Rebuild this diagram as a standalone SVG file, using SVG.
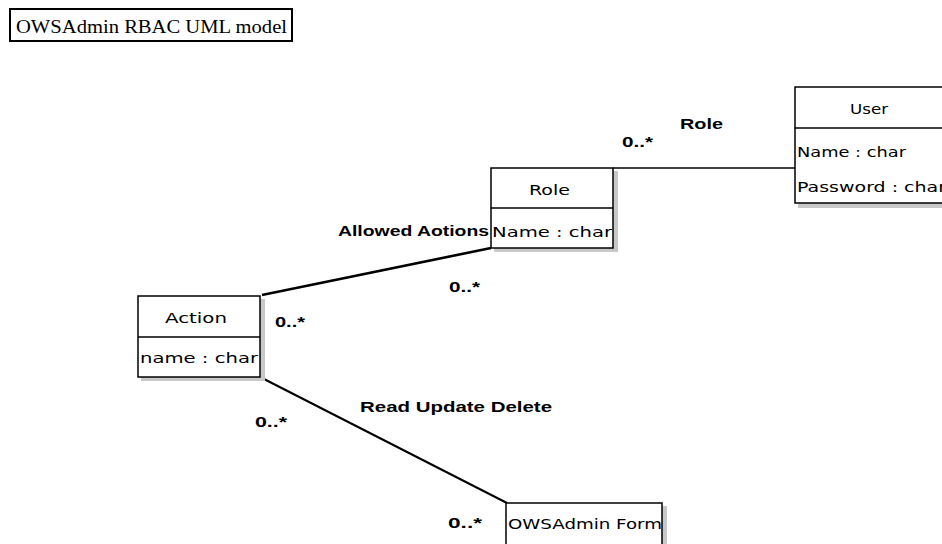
<svg xmlns="http://www.w3.org/2000/svg" width="942" height="544" viewBox="0 0 942 544">
  <style>
    .box { fill: #ffffff; stroke: #000000; stroke-width: 1.5; }
    .shadow { fill: #c8c8c8; }
    .sep { stroke: #000000; stroke-width: 1.5; }
    .node-text { font-family: "DejaVu Sans", "Liberation Sans", sans-serif; font-size: 14px; fill: #000000; }
    .label { font-family: "Liberation Sans", Arial, sans-serif; font-size: 15px; font-weight: bold; fill: #000000; }
    .title { font-family: "Liberation Serif", "Times New Roman", serif; font-size: 19px; fill: #000000; }
    .edge { fill: none; stroke: #000000; }
  </style>

  <rect width="942" height="544" fill="#ffffff"/>

  <!-- Diagram title -->
  <g id="title">
    <rect x="10" y="9" width="282" height="32" fill="#ffffff" stroke="#000000" stroke-width="2"/>
    <text class="title" x="16" y="33" textLength="271" lengthAdjust="spacingAndGlyphs">OWSAdmin RBAC UML model</text>
  </g>

  <!-- Associations -->
  <g id="connectors">
    <line class="edge" x1="613" y1="168" x2="795" y2="168" stroke-width="1.6"/>
    <line class="edge" x1="491" y1="248" x2="262" y2="295" stroke-width="2.6"/>
    <line class="edge" x1="262" y1="378" x2="507" y2="503" stroke-width="2"/>

    <text class="label" x="680" y="129" textLength="43" lengthAdjust="spacingAndGlyphs">Role</text>
    <text class="label" x="622" y="147" textLength="31" lengthAdjust="spacingAndGlyphs">0..*</text>
    <text class="label" x="338" y="236" textLength="151" lengthAdjust="spacingAndGlyphs">Allowed Aotions</text>
    <text class="label" x="449" y="292" textLength="31" lengthAdjust="spacingAndGlyphs">0..*</text>
    <text class="label" x="275" y="327" textLength="30" lengthAdjust="spacingAndGlyphs">0..*</text>
    <text class="label" x="360" y="412" textLength="192" lengthAdjust="spacingAndGlyphs">Read Update Delete</text>
    <text class="label" x="255" y="427" textLength="32" lengthAdjust="spacingAndGlyphs">0..*</text>
    <text class="label" x="448" y="528" textLength="34" lengthAdjust="spacingAndGlyphs">0..*</text>
  </g>

  <!-- User class -->
  <g id="user">
    <rect class="shadow" x="798" y="90" width="150" height="118"/>
    <rect class="box" x="795" y="87" width="152" height="116"/>
    <line class="sep" x1="795" y1="128" x2="947" y2="128"/>
    <text class="node-text" x="850" y="114" textLength="38" lengthAdjust="spacingAndGlyphs">User</text>
    <text class="node-text" x="797" y="157" textLength="109" lengthAdjust="spacingAndGlyphs">Name : char</text>
    <text class="node-text" x="797" y="192" textLength="149" lengthAdjust="spacingAndGlyphs">Password : char</text>
  </g>

  <!-- Role class -->
  <g id="role">
    <rect class="shadow" x="494" y="171" width="124" height="81"/>
    <rect class="box" x="491" y="168" width="122" height="80"/>
    <line class="sep" x1="491" y1="208" x2="613" y2="208"/>
    <text class="node-text" x="529" y="195" textLength="41" lengthAdjust="spacingAndGlyphs">Role</text>
    <text class="node-text" x="492" y="237" textLength="120" lengthAdjust="spacingAndGlyphs">Name : char</text>
  </g>

  <!-- Action class -->
  <g id="action">
    <rect class="shadow" x="141" y="299" width="124" height="82"/>
    <rect class="box" x="138" y="296" width="122" height="81"/>
    <line class="sep" x1="138" y1="337" x2="260" y2="337"/>
    <text class="node-text" x="165" y="323" textLength="62" lengthAdjust="spacingAndGlyphs">Action</text>
    <text class="node-text" x="140" y="363" textLength="118" lengthAdjust="spacingAndGlyphs">name : char</text>
  </g>

  <!-- OWSAdmin Form class -->
  <g id="owsadmin-form">
    <rect class="shadow" x="509" y="506" width="158" height="50"/>
    <rect class="box" x="506" y="503" width="156" height="50"/>
    <text class="node-text" x="508" y="529" textLength="154" lengthAdjust="spacingAndGlyphs">OWSAdmin Form</text>
  </g>
</svg>
